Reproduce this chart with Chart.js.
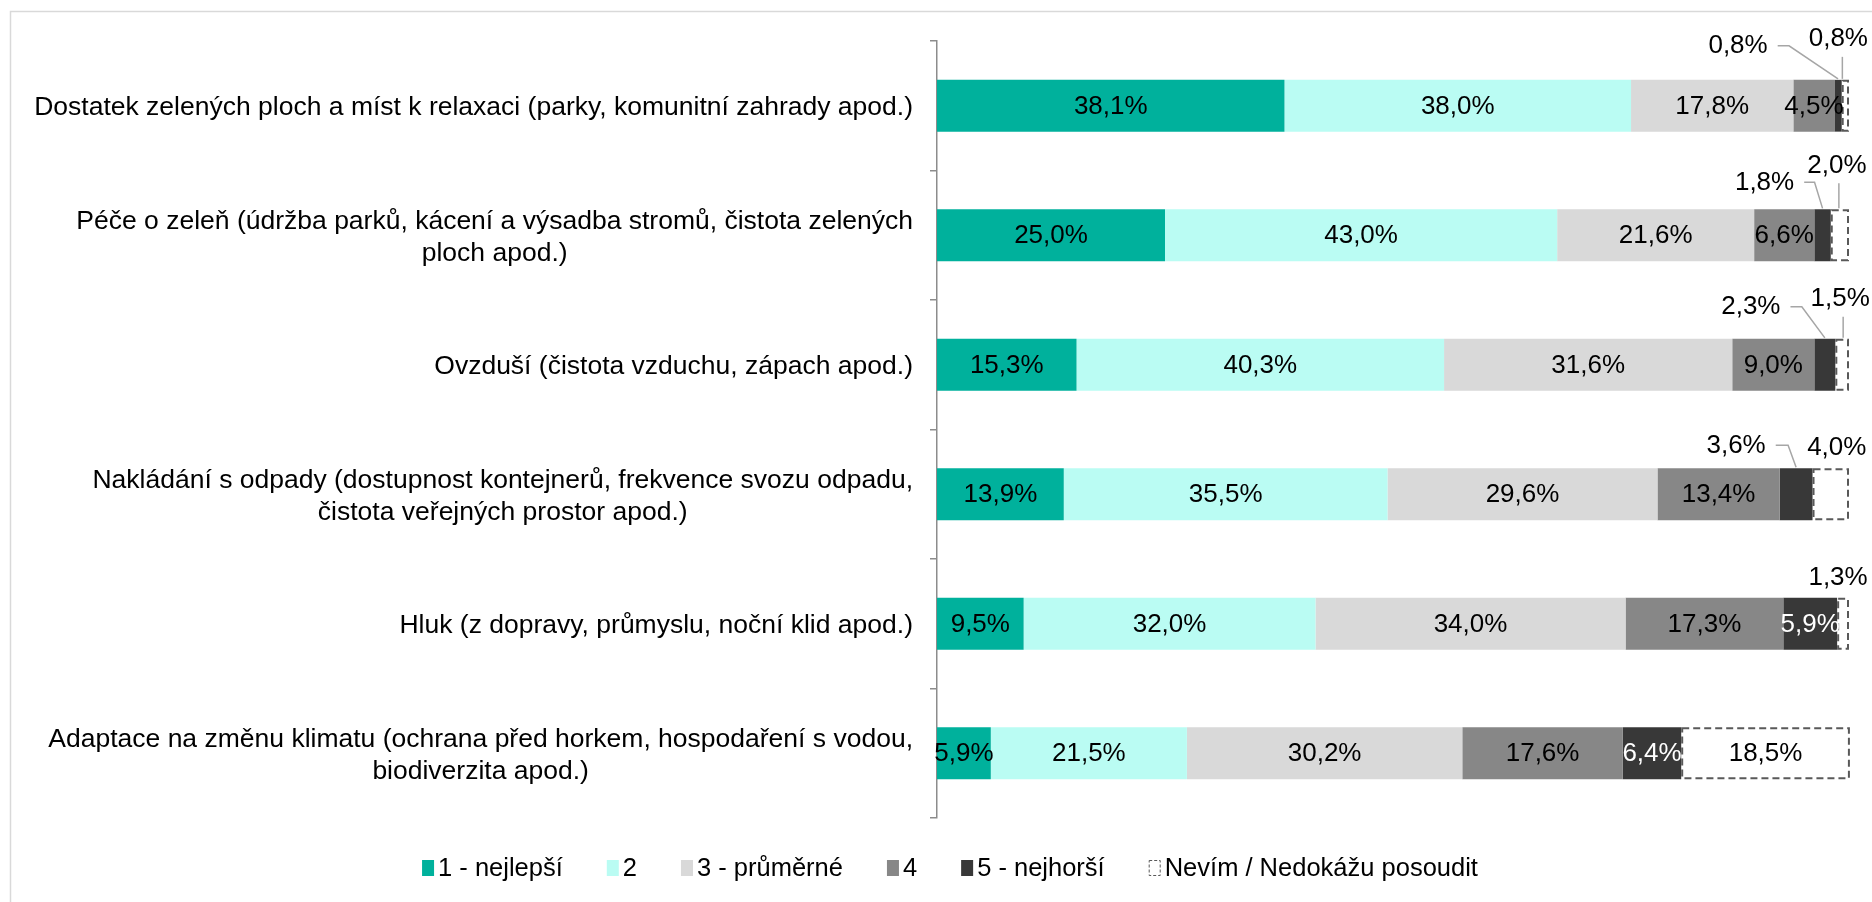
<!DOCTYPE html>
<html>
<head>
<meta charset="utf-8">
<script src="https://cdn.jsdelivr.net/npm/chart.js@4.4.1/dist/chart.umd.min.js"></script>
<style>
  html, body { margin: 0; padding: 0; background: #ffffff; }
  #wrap { width: 1872px; height: 902px; position: relative; }
  canvas { display: block; }
</style>
</head>
<body>
<div id="wrap"><canvas id="c" width="1872" height="902"></canvas></div>
<script>
// ---- data ----
const categories = [
  ["Dostatek zelených ploch a míst k relaxaci (parky, komunitní zahrady apod.)"],
  ["Péče o zeleň (údržba parků, kácení a výsadba stromů, čistota zelených", "ploch apod.)"],
  ["Ovzduší (čistota vzduchu, zápach apod.)"],
  ["Nakládání s odpady (dostupnost kontejnerů, frekvence svozu odpadu,", "čistota veřejných prostor apod.)"],
  ["Hluk (z dopravy, průmyslu, noční klid apod.)"],
  ["Adaptace na změnu klimatu (ochrana před horkem, hospodaření s vodou,", "biodiverzita apod.)"]
];
const seriesNames = ["1 - nejlepší", "2", "3 - průměrné", "4", "5 - nejhorší", "Nevím / Nedokážu posoudit"];
const rating1 = [38.1, 25.0, 15.3, 13.9, 9.5, 5.9];
const rating2 = [38.0, 43.0, 40.3, 35.5, 32.0, 21.5];
const rating3 = [17.8, 21.6, 31.6, 29.6, 34.0, 30.2];
const rating4 = [4.5, 6.6, 9.0, 13.4, 17.3, 17.6];
const rating5 = [0.8, 1.8, 2.3, 3.6, 5.9, 6.4];
const dontKnow = [0.8, 2.0, 1.5, 4.0, 1.3, 18.5];

// ---- styles ----
const FONT = '"Liberation Sans", Arial, sans-serif';
const CAT_FONT_SIZE = 26.5;
const VAL_FONT_SIZE = 26;
const LEG_FONT_SIZE = 25.5;
const colors = ['#00B19C', '#BAFCF3', '#D9D9D9', '#878787', '#383838', '#FFFFFF'];
const labelColors = ['#000', '#000', '#000', '#000', '#fff', '#000'];
const DASH_COLOR = '#595959';
// labels drawn outside their segment: key "row-series"
// dx/dy = label centre relative to segment top-centre; elbow = x of leader elbow relative to segment centre
const outside = {
  '0-4': {dx: -100, dy: -34, leader: 'elbow', elbow: -49},
  '0-5': {dx: -7, dy: -41, leader: 'down', lx: -3},
  '1-4': {dx: -58, dy: -27, leader: 'elbow', elbow: -8},
  '1-5': {dx: -3, dy: -44, leader: 'down', lx: -1},
  '2-4': {dx: -74, dy: -32, leader: 'elbow', elbow: -23},
  '2-5': {dx: -2, dy: -40, leader: 'down', lx: 1},
  '3-4': {dx: -60, dy: -23, leader: 'elbow', elbow: -8},
  '3-5': {dx: 6, dy: -21, leader: 'none'},
  '4-5': {dx: -5, dy: -20, leader: 'none'}
};

const seriesData = [rating1, rating2, rating3, rating4, rating5, dontKnow];
const datasets = seriesData.map((d, i) => ({
  label: seriesNames[i],
  data: d,
  backgroundColor: colors[i],
  borderWidth: 0,
  barPercentage: 0.4,
  categoryPercentage: 1.0
}));

function fmt(v) { return v.toFixed(1).replace('.', ',') + '%'; }

const framePlugin = {
  id: 'frame',
  beforeDraw(chart) {
    const ctx = chart.ctx;
    ctx.save();
    ctx.fillStyle = '#fff';
    ctx.fillRect(0, 0, chart.width, chart.height);
    ctx.strokeStyle = '#D9D9D9';
    ctx.lineWidth = 1.5;
    ctx.strokeRect(10.5, 11.5, chart.width + 10, chart.height + 10);
    ctx.restore();
  }
};

const overlayPlugin = {
  id: 'overlay',
  afterDatasetsDraw(chart) {
    const ctx = chart.ctx;
    ctx.save();
    // dashed boxes for last dataset
    const lastMeta = chart.getDatasetMeta(5);
    ctx.strokeStyle = DASH_COLOR;
    ctx.lineWidth = 2;
    ctx.setLineDash([7, 4]);
    lastMeta.data.forEach(bar => {
      const p = bar.getProps(['x', 'y', 'base', 'height'], true);
      const l = Math.min(p.x, p.base), r = Math.max(p.x, p.base);
      ctx.strokeRect(l + 1, p.y - p.height / 2 + 1, r - l - 2, p.height - 2);
    });
    ctx.setLineDash([]);

    // value labels
    ctx.font = VAL_FONT_SIZE + 'px ' + FONT;
    ctx.textAlign = 'center';
    ctx.textBaseline = 'middle';
    chart.data.datasets.forEach((ds, si) => {
      const meta = chart.getDatasetMeta(si);
      meta.data.forEach((bar, ri) => {
        const p = bar.getProps(['x', 'y', 'base', 'height'], true);
        const cx = (p.x + p.base) / 2;
        const top = p.y - p.height / 2;
        const txt = fmt(ds.data[ri]);
        const o = outside[ri + '-' + si];
        if (!o) {
          ctx.fillStyle = labelColors[si];
          ctx.fillText(txt, cx, p.y + 1);
          return;
        }
        const lx = cx + o.dx, ly = top + o.dy;
        ctx.fillStyle = '#000';
        ctx.fillText(txt, lx, ly);
        ctx.strokeStyle = '#A6A6A6';
        ctx.lineWidth = 1.5;
        if (o.leader === 'elbow') {
          const w = ctx.measureText(txt).width;
          ctx.beginPath();
          ctx.moveTo(lx + w / 2 + 10, ly);
          ctx.lineTo(cx + o.elbow, ly);
          ctx.lineTo(cx, top - 1);
          ctx.stroke();
        } else if (o.leader === 'down') {
          ctx.beginPath();
          ctx.moveTo(cx + o.lx, ly + 18);
          ctx.lineTo(cx + o.lx, top - 1);
          ctx.stroke();
        }
      });
    });

    // category labels (right-aligned block, centred lines)
    const yScale = chart.scales.y;
    ctx.font = CAT_FONT_SIZE + 'px ' + FONT;
    ctx.fillStyle = '#000';
    const rightEdge = yScale.right - 24;
    const lineH = 32;
    categories.forEach((lines, i) => {
      const yc = yScale.getPixelForValue(i);
      const widths = lines.map(t => ctx.measureText(t).width);
      const bw = Math.max(...widths);
      const centreX = rightEdge - bw / 2;
      lines.forEach((t, k) => {
        const y = yc + (k - (lines.length - 1) / 2) * lineH + 2;
        ctx.textAlign = 'center';
        ctx.fillText(t, centreX, y);
      });
    });

    // legend
    ctx.font = LEG_FONT_SIZE + 'px ' + FONT;
    ctx.textAlign = 'left';
    const boxW = 12, boxH = 16, boxGap = 4, itemGap = 44;
    const items = chart.data.datasets.map(d => d.label);
    const iw = items.map(t => boxW + boxGap + ctx.measureText(t).width);
    const total = iw.reduce((a, b) => a + b, 0) + itemGap * (items.length - 1);
    let x = 950 - total / 2;
    const ly = 868;
    items.forEach((t, i) => {
      if (i === 5) {
        ctx.strokeStyle = DASH_COLOR;
        ctx.lineWidth = 1;
        ctx.setLineDash([3, 2]);
        ctx.strokeRect(x + 0.5, ly - boxH / 2 + 0.5, boxW - 1, boxH - 1);
        ctx.setLineDash([]);
      } else {
        ctx.fillStyle = colors[i];
        ctx.fillRect(x, ly - boxH / 2, boxW, boxH);
      }
      ctx.fillStyle = '#000';
      ctx.fillText(t, x + boxW + boxGap, ly + 1);
      x += iw[i] + itemGap;
    });
    ctx.restore();
  }
};

new Chart(document.getElementById('c'), {
  type: 'bar',
  data: { labels: categories.map(c => c.join(' ')), datasets },
  options: {
    indexAxis: 'y',
    responsive: false,
    animation: false,
    layout: { padding: { left: 0, right: 23, top: 41, bottom: 84 } },
    plugins: { legend: { display: false }, tooltip: { enabled: false } },
    scales: {
      x: { display: false, stacked: true, min: 0, max: 100 },
      y: {
        stacked: true,
        afterFit(scale) { scale.width = 937; },
        ticks: { display: false },
        grid: { drawOnChartArea: false, drawTicks: true, tickLength: 7, color: '#8C8C8C', lineWidth: 1.5, offset: true },
        border: { display: true, color: '#8C8C8C', width: 1.5 }
      }
    }
  },
  plugins: [framePlugin, overlayPlugin]
});
</script>
</body>
</html>
